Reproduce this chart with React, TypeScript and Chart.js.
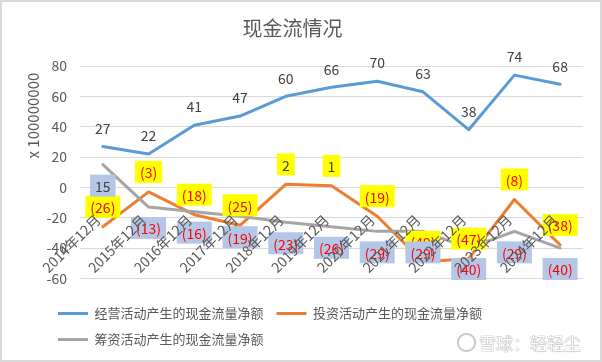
import React, { useEffect, useRef } from 'react';
import { Chart, registerables } from 'chart.js';

Chart.register(...registerables);

const categories = [
  '2014年12月', '2015年12月', '2016年12月', '2017年12月', '2018年12月', '2019年12月',
  '2020年12月', '2021年12月', '2022年12月', '2023年12月', '2024年12月',
];
const operatingCF = [27, 22, 41, 47, 60, 66, 70, 63, 38, 74, 68];
const investingCF = [-26, -3, -18, -25, 2, 1, -19, -49, -47, -8, -38];
const financingCF = [15, -13, -16, -19, -23, -26, -29, -29, -40, -29, -40];
const seriesNames = [
  '经营活动产生的现金流量净额',
  '投资活动产生的现金流量净额',
  '筹资活动产生的现金流量净额',
];
const chartTitle = '现金流情况';
const yAxisTitle = 'x 100000000  ';
const yMin = -60;
const yMax = 80;
const yStep = 20;

const FONT = '"Noto Sans CJK SC", "Noto Sans", sans-serif';
const COLORS = ['#5b9bd5', '#ed7d31', '#a5a5a5'];
const LABEL_STYLES = [
  { box: null as string | null, dy: -19 },
  { box: '#ffff00', dy: -20 },
  { box: '#b4c7e7', dy: 21 },
];

const dataLabelPlugin = {
  id: 'dataLabels',
  afterDatasetsDraw(chart: any) {
    const ctx = chart.ctx as CanvasRenderingContext2D;
    ctx.save();
    ctx.font = `14px ${FONT}`;
    ctx.textAlign = 'center';
    ctx.textBaseline = 'middle';
    chart.data.datasets.forEach((ds: any, di: number) => {
      const meta = chart.getDatasetMeta(di);
      const st = LABEL_STYLES[di];
      meta.data.forEach((pt: any, i: number) => {
        const v = ds.data[i] as number;
        const text = v < 0 ? `(${Math.abs(v)})` : `${v}`;
        const cx = pt.x;
        const cy = pt.y + st.dy;
        if (st.box) {
          const w = ctx.measureText(text).width + 10;
          ctx.fillStyle = st.box;
          ctx.fillRect(cx - w / 2, cy - 11, w, 22);
        }
        ctx.fillStyle = v < 0 ? '#ff0000' : '#404040';
        ctx.fillText(text, cx, cy + 1);
      });
    });
    ctx.restore();
  },
};

const legendShiftPlugin = {
  id: 'legendShift',
  afterLayout(chart: any) {
    if (chart.legend) chart.legend.left = 43;
  },
};

export default function App() {
  const ref = useRef<HTMLCanvasElement | null>(null);

  useEffect(() => {
    if (!ref.current) return;
    Chart.defaults.font.family = FONT;
    const series = [operatingCF, investingCF, financingCF];
    const chart = new Chart(ref.current, {
      type: 'line',
      data: {
        labels: categories,
        datasets: series.map((d, i) => ({
          label: seriesNames[i],
          data: d,
          borderColor: COLORS[i],
          backgroundColor: COLORS[i],
          borderWidth: 3,
          pointRadius: 0,
          pointHoverRadius: 0,
          tension: 0,
          borderJoinStyle: 'round' as const,
          borderCapStyle: 'round' as const,
          order: 2 - i,
        })),
      },
      options: {
        animation: false,
        responsive: false,
        layout: { padding: { left: 0, right: 17, top: 0, bottom: 4 } },
        plugins: {
          title: {
            display: true,
            text: chartTitle,
            color: '#595959',
            font: { size: 20, weight: 'normal' },
            padding: { top: 14, bottom: 26 },
          },
          legend: {
            position: 'bottom',
            align: 'start',
            title: { display: true, text: '', font: { size: 13 }, padding: 0 },
            labels: {
              usePointStyle: true,
              pointStyle: 'line',
              pointStyleWidth: 30,
              color: '#595959',
              font: { size: 13 },
              padding: 13,
              sort: (a: any, b: any) => a.datasetIndex - b.datasetIndex,
            },
          },
          tooltip: { enabled: false },
        },
        scales: {
          x: {
            type: 'category',
            position: { y: 0 } as any,
            offset: true,
            grid: { display: false, drawTicks: false },
            border: { display: true, color: '#d9d9d9' },
            ticks: {
              minRotation: 45,
              maxRotation: 45,
              autoSkip: false,
              color: '#595959',
              font: { size: 14 },
              padding: 24,
              labelOffset: -5,
              z: 1,
            },
          },
          y: {
            min: yMin,
            max: yMax,
            ticks: { stepSize: yStep, color: '#595959', font: { size: 14 }, padding: 13 },
            grid: { color: '#d9d9d9', drawTicks: false },
            border: { display: false },
            title: {
              display: true,
              text: yAxisTitle,
              align: 'end',
              color: '#595959',
              font: { size: 15 },
              padding: { top: 22, bottom: 0 },
            },
            afterFit: (s: any) => {
              s.width = 78;
            },
          },
        },
      } as any,
      plugins: [dataLabelPlugin, legendShiftPlugin],
    });
    return () => chart.destroy();
  }, []);

  return (
    <div
      style={{
        position: 'fixed',
        left: 0,
        top: 0,
        width: 602,
        height: 362,
        boxSizing: 'border-box',
        border: '2px solid #d9d9d9',
        background: '#fff',
      }}
    >
      <canvas ref={ref} width={598} height={358} style={{ display: 'block', width: 598, height: 358 }} />
      <div
        style={{
          position: 'absolute',
          left: 455,
          top: 328,
          display: 'flex',
          alignItems: 'center',
          gap: 3,
          fontFamily: FONT,
          fontSize: 17,
          color: '#ffffff',
          textShadow: '0 0 1px #8a8a8a, 0 0 1px #8a8a8a',
        }}
      >
        <span
          style={{
            display: 'inline-block',
            width: 15,
            height: 15,
            borderRadius: 9,
            border: '2px solid #c8c8c8',
          }}
        />
        <span>雪球：轻轻尘</span>
      </div>
    </div>
  );
}
